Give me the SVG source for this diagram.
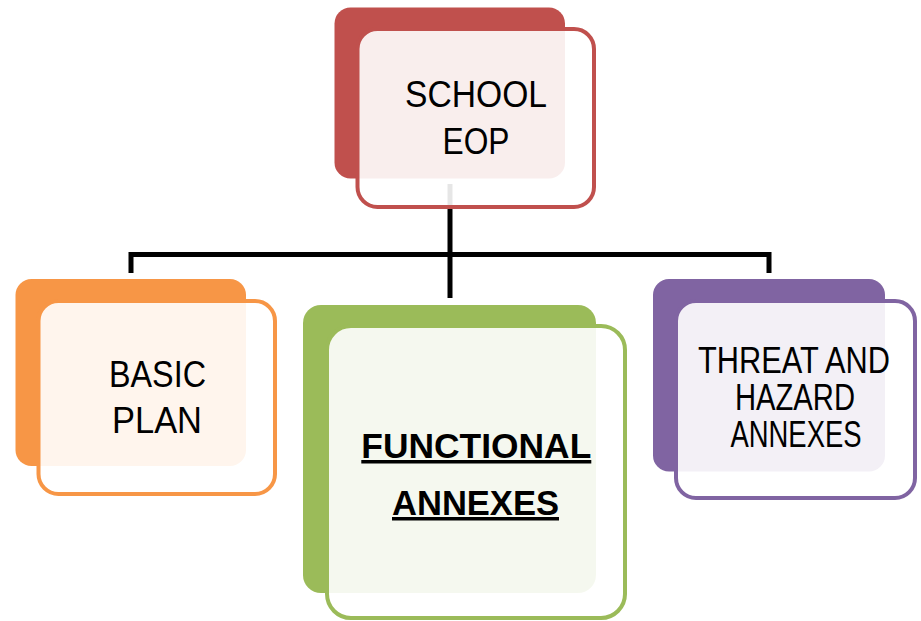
<svg xmlns="http://www.w3.org/2000/svg" width="921" height="621" viewBox="0 0 921 621">
<style>
.front{fill:#ffffff;fill-opacity:0.9;stroke-width:4}
.conn{fill:none;stroke:#000;stroke-width:5}
.t{font-family:"Liberation Sans",Arial,sans-serif;font-size:36px;fill:#000;text-anchor:middle}
.b{font-weight:bold;font-size:35px;text-decoration:underline}
</style>
<rect width="921" height="621" fill="#ffffff"/>
<g id="connectors">
<path class="conn" d="M450,184 V298"/>
<path class="conn" d="M131,273 V254.5 H769 V273"/>
</g>
<g id="school-eop">
<rect x="334.5" y="7.5" width="230.5" height="171" rx="16" fill="#C0504D"/>
<rect class="front" x="357.5" y="29" width="236.5" height="178" rx="20" stroke="#C0504D"/>
<text class="t" x="476" y="107" textLength="142" lengthAdjust="spacingAndGlyphs">SCHOOL</text>
<text class="t" x="476" y="154" textLength="67" lengthAdjust="spacingAndGlyphs">EOP</text>
</g>
<g id="basic-plan">
<rect x="15.5" y="279" width="230.5" height="187" rx="16" fill="#F79646"/>
<rect class="front" x="38.5" y="301" width="236.5" height="193" rx="20" stroke="#F79646"/>
<text class="t" x="157.5" y="387" textLength="97" lengthAdjust="spacingAndGlyphs">BASIC</text>
<text class="t" x="157" y="433" textLength="90" lengthAdjust="spacingAndGlyphs">PLAN</text>
</g>
<g id="functional-annexes">
<rect x="303" y="305" width="293" height="288" rx="18" fill="#9BBB59"/>
<rect class="front" x="327" y="326" width="298" height="292" rx="24" stroke="#9BBB59"/>
<text class="t b" x="476.3" y="458" textLength="230" lengthAdjust="spacingAndGlyphs">FUNCTIONAL</text>
<text class="t b" x="475.5" y="515" textLength="167" lengthAdjust="spacingAndGlyphs">ANNEXES</text>
</g>
<g id="threat-hazard-annexes">
<rect x="653" y="279" width="232" height="192.5" rx="16" fill="#8064A2"/>
<rect class="front" x="676" y="301" width="239" height="197" rx="20" stroke="#8064A2"/>
<text class="t" x="794" y="373" textLength="192" lengthAdjust="spacingAndGlyphs">THREAT AND</text>
<text class="t" x="795" y="410" textLength="120" lengthAdjust="spacingAndGlyphs">HAZARD</text>
<text class="t" x="796" y="447" textLength="131" lengthAdjust="spacingAndGlyphs">ANNEXES</text>
</g>
</svg>
